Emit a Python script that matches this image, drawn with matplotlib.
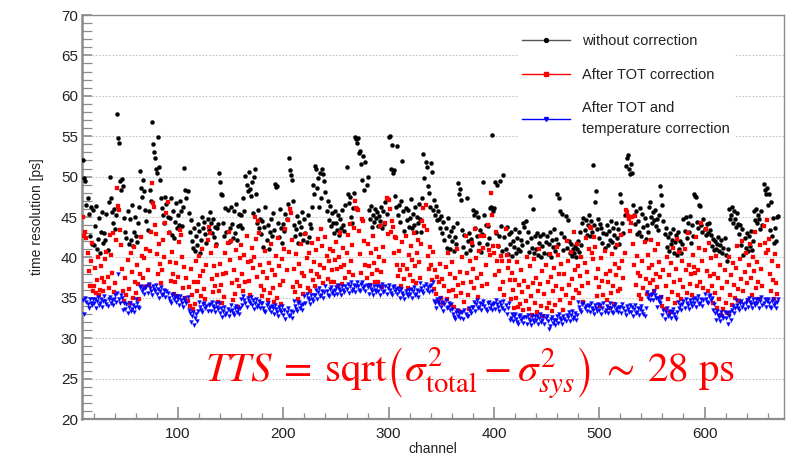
import matplotlib
matplotlib.use("Agg")
import matplotlib.pyplot as plt
from matplotlib.lines import Line2D
from matplotlib.ticker import MultipleLocator

##############################################################################
# Dados (um valor por canal, canais 10..670)
canais = list(range(10, 671))

sem_correcao = [
    52.0, 49.8, 49.5, 46.5, 47.3, 45.4, 42.6, 46.2, 41.7, 45.9,
    41.5, 43.9, 46.4, 41.0, 42.3, 44.9, 40.6, 43.2, 45.6, 41.8,
    43.0, 42.1, 45.4, 40.9, 46.8, 50.0, 47.3, 45.6, 44.3, 46.0,
    43.5, 45.2, 57.8, 54.8, 54.2, 49.5, 48.3, 49.7, 48.8, 44.9,
    43.1, 42.4, 45.7, 41.7, 44.8, 42.2, 46.5, 41.4, 43.2, 45.0,
    42.6, 41.9, 44.3, 46.3, 50.7, 48.6, 47.5, 49.6, 48.2, 45.9,
    44.5, 43.4, 45.8, 48.4, 47.0, 56.7, 54.0, 53.1, 52.3, 51.0,
    50.5, 54.9, 51.2, 49.6, 47.4, 46.1, 45.3, 44.2, 47.5, 46.6,
    45.0, 43.2, 44.9, 47.3, 42.8, 45.8, 42.4, 44.4, 46.7, 43.6,
    45.2, 44.0, 47.0, 45.7, 43.9, 46.3, 51.1, 48.4, 47.3, 48.2,
    45.5, 43.1, 44.6, 42.0, 41.2, 43.7, 40.8, 42.6, 41.5, 44.1,
    43.3, 40.6, 42.2, 45.0, 43.6, 44.4, 42.9, 41.8, 44.8, 43.4,
    45.6, 44.2, 43.0, 44.7, 42.5, 43.8, 41.7, 43.6, 44.1, 50.4,
    49.3, 47.9, 47.7, 44.3, 42.7, 46.1, 43.2, 45.9, 41.9, 43.6,
    46.3, 44.1, 42.4, 45.8, 43.0, 46.6, 42.1, 43.9, 45.4, 44.0,
    45.3, 43.7, 47.3, 45.8, 50.1, 49.0, 48.2, 50.6, 48.5, 47.6,
    49.3, 45.5, 50.0, 50.9, 47.8, 44.3, 45.9, 43.6, 44.7, 42.9,
    44.5, 41.3, 43.8, 46.2, 42.2, 44.0, 41.0, 43.1, 44.8, 42.6,
    45.5, 43.4, 49.1, 48.7, 48.9, 44.2, 42.5, 46.0, 43.7, 41.8,
    44.1, 43.3, 45.4, 44.7, 46.6, 52.3, 50.8, 50.2, 49.6, 47.0,
    44.0, 42.6, 43.5, 45.1, 41.8, 44.4, 42.9, 43.8, 45.6, 42.2,
    44.8, 43.0, 41.9, 45.3, 42.5, 44.1, 43.6, 46.2, 49.0, 47.8,
    51.3, 50.9, 48.6, 49.8, 46.2, 50.4, 47.4, 51.0, 50.3, 49.5,
    48.1, 45.7, 47.0, 44.6, 46.4, 43.9, 45.5, 44.2, 43.0, 45.8,
    44.3, 43.4, 45.2, 42.8, 44.7, 43.6, 45.9, 44.0, 43.3, 46.5,
    51.2, 47.9, 46.7, 47.5, 45.0, 44.2, 46.1, 48.0, 54.9, 54.6,
    54.1, 54.8, 52.9, 53.2, 51.6, 49.6, 52.5, 48.3, 51.8, 49.0,
    50.0, 45.9, 44.8, 46.4, 43.8, 45.3, 44.4, 46.0, 44.9, 45.6,
    43.9, 45.1, 44.5, 46.2, 43.6, 45.8, 44.1, 46.9, 45.4, 47.2,
    54.9, 55.0, 51.0, 53.9, 50.4, 50.8, 47.6, 46.3, 53.8, 45.2,
    46.5, 44.4, 47.0, 51.9, 45.7, 43.3, 46.1, 44.6, 45.9, 43.8,
    44.9, 47.2, 43.6, 45.4, 44.0, 46.3, 43.2, 45.0, 44.3, 46.6,
    44.7, 43.1, 47.4, 52.8, 49.8, 51.8, 51.2, 48.8, 48.0, 46.2,
    51.7, 50.6, 45.9, 47.1, 45.3, 46.4, 44.6, 45.8, 44.8, 43.7,
    45.1, 43.0, 44.4, 42.1, 43.6, 41.2, 44.9, 42.7, 41.0, 43.3,
    42.0, 43.8, 40.8, 42.5, 41.6, 44.2, 49.2, 47.9, 48.5, 47.1,
    43.4, 41.3, 42.8, 40.5, 47.3, 42.0, 43.0, 40.9, 42.3, 41.5,
    45.9, 45.2, 43.7, 45.6, 42.6, 45.0, 41.8, 43.4, 40.7, 42.9,
    49.3, 45.3, 44.0, 41.6, 43.9, 42.4, 46.1, 46.3, 55.2, 45.8,
    46.1, 49.3, 43.0, 49.0, 41.4, 42.7, 49.4, 43.9, 40.8, 50.2,
    42.5, 41.1, 43.8, 40.4, 42.9, 41.7, 43.2, 40.2, 42.0, 41.3,
    43.5, 40.6, 42.4, 41.0, 43.1, 40.8, 42.2, 41.5, 44.2, 43.8,
    44.5, 41.9, 43.1, 40.7, 47.6, 42.4, 41.2, 46.0, 40.5, 42.6,
    41.0, 43.0, 40.3, 41.8, 42.7, 40.1, 41.4, 42.9, 40.6, 41.9,
    42.6, 40.4, 41.7, 43.2, 40.0, 42.1, 41.3, 43.5, 40.8, 42.3,
    47.9, 41.6, 47.3, 45.8, 43.0, 45.4, 40.9, 42.5, 45.1, 41.2,
    44.6, 42.0, 40.6, 41.7, 40.2, 41.1, 40.5, 41.4, 40.0, 41.0,
    42.0, 40.7, 43.2, 41.5, 44.3, 44.9, 43.4, 44.6, 42.8, 44.0,
    45.2, 42.6, 44.5, 43.1, 51.4, 44.0, 46.8, 48.2, 43.5, 44.7,
    42.4, 44.1, 43.6, 41.8, 43.0, 41.2, 42.9, 44.0, 41.5, 43.3,
    42.2, 44.5, 41.9, 43.7, 42.8, 41.3, 44.2, 42.4, 43.5, 41.6,
    47.8, 46.8, 44.3, 43.0, 45.2, 51.3, 52.3, 52.7, 51.0, 50.3,
    51.5, 50.4, 46.5, 45.3, 44.1, 45.8, 42.9, 44.5, 43.2, 46.1,
    42.6, 45.4, 43.8, 44.9, 42.3, 44.0, 43.1, 46.2, 46.8, 45.0,
    44.2, 45.6, 44.6, 45.9, 43.9, 44.8, 43.4, 45.3, 48.9, 47.7,
    46.5, 44.5, 42.9, 43.7, 41.3, 42.5, 40.8, 43.0, 41.6, 42.2,
    43.5, 40.6, 41.9, 42.8, 40.3, 43.2, 41.1, 42.0, 40.5, 41.7,
    44.8, 43.3, 45.0, 42.4, 44.3, 43.1, 45.1, 41.8, 44.0, 42.7,
    47.9, 47.6, 47.5, 44.4, 43.6, 46.5, 46.4, 44.0, 43.2, 44.7,
    43.5, 42.8, 44.1, 43.0, 44.3, 43.4, 42.8, 41.4, 42.3, 40.9,
    42.0, 41.0, 41.7, 42.5, 40.8, 41.5, 42.2, 40.6, 41.2, 42.4,
    40.3, 39.6, 41.0, 46.0, 44.7, 45.3, 46.3, 44.2, 45.7, 44.8,
    43.8, 45.5, 44.1, 42.9, 44.0, 41.5, 43.5, 40.3, 42.4, 41.2,
    43.0, 40.8, 42.6, 41.4, 43.3, 40.9, 42.0, 45.8, 44.6, 46.0,
    44.2, 45.3, 44.8, 43.5, 45.7, 44.0, 49.1, 48.4, 47.8, 48.6,
    46.5, 47.9, 43.4, 46.8, 42.6, 44.9, 41.8, 43.7, 42.0, 45.0,
    45.1,
]

correcao_tot = [
    45.0, 42.6, 43.1, 42.4, 40.5, 38.3, 36.4, 39.6, 41.8, 35.9,
    36.5, 38.7, 35.6, 37.2, 40.1, 35.4, 36.0, 38.9, 37.4, 35.8,
    36.9, 39.8, 40.7, 37.6, 36.2, 42.8, 40.3, 38.1, 43.0, 35.7,
    36.8, 42.2, 48.6, 46.4, 45.9, 43.4, 41.5, 38.6, 35.9, 34.6,
    37.4, 35.3, 39.7, 36.1, 34.4, 40.6, 38.2, 35.0, 41.3, 37.0,
    35.6, 39.1, 36.7, 34.9, 38.0, 42.5, 40.2, 37.5, 39.9, 36.3,
    41.0, 38.4, 36.6, 40.8, 43.2, 49.2, 46.7, 46.3, 44.0, 42.9,
    40.4, 37.9, 41.6, 39.2, 36.8, 38.5, 42.1, 40.0, 44.3, 45.5,
    46.9, 43.0, 39.4, 37.1, 40.7, 38.0, 35.5, 36.9, 39.3, 35.2,
    37.6, 41.9, 43.4, 42.8, 40.1, 36.2, 38.8, 35.0, 37.4, 34.6,
    36.3, 34.0, 38.6, 35.4, 33.6, 37.0, 34.2, 39.5, 35.8, 36.9,
    40.2, 37.7, 35.2, 41.1, 38.3, 36.1, 34.8, 39.0, 42.1, 43.8,
    43.0, 40.6, 37.3, 35.7, 38.9, 36.4, 41.4, 37.8, 34.5, 35.9,
    39.2, 36.6, 34.3, 37.9, 35.1, 40.5, 38.1, 41.8, 43.1, 39.7,
    42.0, 36.8, 34.7, 38.4, 35.5, 40.9, 37.2, 33.9, 36.5, 39.9,
    41.5, 38.0, 35.8, 40.3, 36.9, 42.7, 39.4, 37.1, 35.3, 39.6,
    41.2, 38.7, 40.0, 45.0, 42.3, 37.6, 44.5, 43.0, 39.1, 36.4,
    35.2, 38.2, 36.0, 40.8, 37.4, 34.7, 39.3, 35.6, 41.7, 38.5,
    36.2, 34.5, 37.8, 40.2, 35.0, 42.4, 38.9, 36.6, 34.2, 39.8,
    37.1, 41.0, 43.5, 38.4, 44.6, 40.7, 46.0, 45.5, 42.1, 36.3,
    38.6, 35.7, 40.4, 37.0, 34.9, 39.2, 36.4, 41.6, 38.1, 35.5,
    37.7, 42.9, 39.9, 36.2, 40.6, 35.9, 38.3, 41.8, 37.2, 39.4,
    36.5, 40.9, 38.0, 42.3, 37.6, 39.0, 43.5, 41.4, 36.8, 38.7,
    42.5, 40.2, 37.3, 39.5, 41.1, 36.9, 38.4, 40.8, 37.0, 39.7,
    41.9, 38.6, 36.4, 40.0, 43.0, 38.8, 36.7, 41.2, 39.1, 37.5,
    40.6, 42.8, 38.2, 44.1, 39.6, 41.5, 37.8, 43.6, 47.0, 46.1,
    46.0, 45.9, 43.3, 40.4, 38.1, 44.8, 44.5, 42.0, 39.0, 37.4,
    41.7, 38.9, 36.6, 40.5, 37.9, 42.6, 39.3, 37.0, 41.0, 38.5,
    36.9, 40.1, 43.9, 38.2, 36.3, 41.3, 39.5, 44.2, 47.3, 42.9,
    47.1, 46.0, 43.2, 44.5, 43.8, 40.6, 42.5, 42.4, 39.1, 37.7,
    40.8, 38.4, 36.5, 41.9, 39.0, 37.3, 42.7, 38.6, 36.2, 40.3,
    37.8, 41.4, 39.7, 37.1, 43.0, 38.9, 36.8, 40.6, 42.2, 39.4,
    37.5, 41.6, 44.5, 46.1, 43.9, 46.5, 43.4, 40.2, 38.6, 41.3,
    39.0, 37.2, 40.7, 36.1, 38.4, 35.5, 37.6, 34.6, 36.9, 39.2,
    35.0, 37.3, 34.3, 36.4, 38.8, 34.9, 40.5, 35.8, 37.9, 34.1,
    39.4, 36.0, 33.9, 37.5, 35.2, 41.1, 36.6, 33.4, 38.2, 35.6,
    40.0, 36.8, 34.5, 42.6, 38.1, 35.3, 33.6, 39.5, 37.0, 41.8,
    38.6, 36.2, 43.5, 39.9, 37.4, 35.1, 40.8, 42.6, 38.0, 36.4,
    41.2, 42.6, 39.0, 36.7, 44.0, 40.9, 40.3, 48.0, 45.2, 41.4,
    40.6, 37.8, 43.1, 39.6, 41.4, 38.3, 36.1, 40.2, 39.5, 37.0,
    35.4, 43.5, 40.3, 38.7, 39.6, 37.2, 34.8, 38.1, 36.0, 33.8,
    37.2, 35.0, 39.4, 33.9, 36.6, 34.2, 38.5, 35.7, 33.5, 37.1,
    34.6, 40.0, 36.3, 33.6, 38.9, 35.2, 32.9, 36.8, 39.8, 34.4,
    37.5, 33.2, 35.9, 41.0, 36.7, 34.0, 38.3, 32.8, 35.5, 39.1,
    33.7, 36.9, 34.3, 40.4, 37.6, 33.4, 35.8, 38.7, 34.1, 36.5,
    41.3, 40.3, 37.9, 34.7, 39.2, 36.1, 33.5, 38.0, 35.3, 42.0,
    39.5, 36.6, 34.4, 40.7, 37.3, 35.0, 43.2, 38.4, 36.0, 41.6,
    38.9, 35.6, 37.7, 40.1, 36.4, 34.5, 39.3, 42.4, 38.2, 36.8,
    41.0, 43.8, 43.6, 40.5, 39.8, 42.5, 41.3, 37.5, 35.2, 38.6,
    36.3, 34.0, 39.9, 37.1, 35.4, 40.8, 38.0, 34.7, 36.9, 33.8,
    38.3, 35.6, 40.4, 36.5, 34.2, 39.2, 37.8, 41.5, 35.9, 38.7,
    36.1, 42.8, 39.5, 37.4, 40.6, 45.9, 45.6, 45.1, 44.8, 43.3,
    44.2, 45.0, 41.7, 39.0, 45.1, 36.6, 40.2, 38.1, 35.4, 37.7,
    34.8, 39.6, 36.2, 41.9, 37.3, 35.5, 40.3, 38.7, 36.8, 42.2,
    39.1, 37.2, 35.8, 40.9, 38.0, 36.3, 41.6, 39.4, 37.6, 35.1,
    34.0, 38.5, 33.6, 36.4, 40.0, 34.9, 37.8, 33.2, 39.3, 35.7,
    41.2, 36.9, 34.3, 38.6, 42.3, 35.4, 40.7, 37.2, 34.8, 39.5,
    36.3, 41.0, 38.4, 35.6, 43.0, 39.1, 36.7, 37.9, 35.3, 40.3,
    38.8, 38.1, 42.5, 36.4, 38.5, 41.2, 37.0, 44.2, 39.6, 36.2,
    40.9, 43.5, 38.3, 35.9, 41.8, 37.7, 39.9, 36.5, 34.3, 38.0,
    35.6, 40.2, 33.7, 37.4, 34.9, 39.0, 32.9, 36.2, 33.6, 38.4,
    34.4, 36.9, 33.1, 40.1, 35.3, 37.8, 34.1, 39.3, 36.6, 35.0,
    38.7, 41.4, 36.1, 34.6, 39.8, 37.3, 42.0, 35.8, 38.2, 40.6,
    36.8, 34.7, 39.1, 41.7, 37.5, 35.4, 40.0, 38.3, 43.1, 36.2,
    39.4, 37.0, 34.9, 41.5, 38.6, 36.4, 43.9, 41.8, 40.5, 44.6,
    40.9, 42.3, 38.0, 35.8, 39.6, 37.2, 34.9, 40.4, 36.8, 35.5,
    38.9,
]

correcao_tot_temp = [
    34.7, 33.0, 35.0, 34.5, 34.2, 33.7, 34.8, 34.4, 34.1, 34.9,
    34.3, 34.9, 33.8, 34.6, 35.1, 34.1, 34.3, 34.8, 33.9, 34.6,
    35.2, 34.6, 34.2, 34.0, 34.9, 35.1, 34.4, 34.7, 34.1, 34.8,
    35.3, 34.5, 35.6, 38.0, 34.8, 34.3, 35.4, 35.0, 33.5, 34.3,
    33.6, 34.2, 33.1, 33.9, 34.4, 33.4, 33.6, 34.1, 33.2, 33.9,
    34.9, 34.3, 33.9, 33.7, 36.3, 36.5, 35.8, 36.1, 35.5, 36.2,
    36.4, 35.6, 36.7, 36.2, 35.9, 35.4, 36.5, 36.1, 35.8, 36.6,
    35.5, 36.1, 35.0, 35.8, 36.3, 35.3, 35.5, 36.0, 35.1, 35.8,
    35.6, 35.0, 34.6, 34.4, 35.3, 35.5, 34.8, 35.1, 34.5, 35.2,
    34.9, 34.1, 35.2, 34.7, 34.4, 33.9, 35.0, 34.6, 34.3, 35.1,
    33.5, 33.1, 32.0, 32.8, 33.3, 31.6, 32.5, 33.0, 32.1, 33.4,
    34.5, 33.9, 33.5, 33.3, 34.2, 34.4, 33.7, 34.0, 33.4, 34.1,
    34.2, 33.4, 34.5, 34.0, 33.7, 33.2, 34.3, 33.9, 33.6, 34.4,
    33.1, 33.7, 32.6, 33.4, 33.9, 32.9, 33.1, 33.6, 32.7, 33.4,
    34.1, 33.5, 33.1, 32.9, 33.8, 34.0, 33.3, 33.6, 33.0, 33.7,
    34.9, 34.1, 35.2, 34.7, 34.4, 33.9, 35.0, 34.6, 34.3, 35.1,
    34.1, 34.7, 33.6, 34.4, 34.9, 33.9, 34.1, 34.6, 33.7, 34.4,
    34.4, 33.8, 33.4, 33.2, 34.1, 34.3, 33.6, 33.9, 33.3, 34.0,
    33.8, 33.0, 34.1, 33.6, 33.3, 32.8, 33.9, 33.5, 33.2, 34.0,
    32.9, 33.5, 32.4, 33.2, 33.7, 32.7, 32.9, 33.4, 32.5, 33.2,
    34.6, 34.0, 33.6, 33.4, 34.3, 34.5, 33.8, 34.1, 33.5, 34.2,
    35.2, 34.4, 35.5, 35.0, 34.7, 34.2, 35.3, 34.9, 34.6, 35.4,
    35.4, 36.0, 34.9, 35.7, 36.2, 35.2, 35.4, 35.9, 35.0, 35.7,
    36.4, 35.8, 35.4, 35.2, 36.1, 36.3, 35.6, 35.9, 35.3, 36.0,
    36.3, 35.5, 36.6, 36.1, 35.8, 35.3, 36.4, 36.0, 35.7, 36.5,
    36.1, 36.7, 35.6, 36.4, 36.9, 35.9, 36.1, 36.6, 35.7, 36.4,
    37.0, 36.4, 36.0, 35.8, 36.7, 36.9, 36.2, 36.5, 35.9, 36.6,
    36.3, 35.5, 36.6, 36.1, 35.8, 35.3, 36.4, 36.0, 35.7, 36.5,
    35.9, 36.5, 35.4, 36.2, 36.7, 35.7, 35.9, 36.4, 35.5, 36.2,
    36.6, 36.0, 35.6, 35.4, 36.3, 36.5, 35.8, 36.1, 35.5, 36.2,
    35.8, 35.0, 36.1, 35.6, 35.3, 34.8, 35.9, 35.5, 35.2, 36.0,
    35.5, 36.1, 35.0, 35.8, 36.3, 35.3, 35.5, 36.0, 35.1, 35.8,
    36.8, 36.2, 35.8, 35.6, 36.5, 36.7, 36.0, 36.3, 35.7, 36.4,
    36.6, 35.8, 36.9, 34.6, 34.3, 33.8, 34.9, 34.5, 34.2, 35.0,
    33.9, 34.5, 33.4, 34.2, 34.7, 33.7, 33.9, 34.4, 33.5, 34.2,
    33.6, 33.0, 32.6, 32.4, 33.3, 33.5, 32.8, 33.1, 32.5, 33.2,
    33.2, 32.4, 33.5, 33.0, 32.7, 32.7, 33.8, 33.4, 33.1, 33.9,
    33.9, 34.5, 33.4, 34.2, 34.7, 33.7, 33.9, 34.4, 33.5, 34.2,
    34.6, 34.0, 33.6, 33.4, 34.3, 34.5, 33.8, 34.1, 33.5, 34.2,
    34.4, 33.6, 34.7, 34.2, 33.9, 33.4, 34.5, 34.1, 33.8, 34.6,
    33.5, 34.1, 33.0, 33.8, 34.3, 32.3, 32.5, 33.0, 32.1, 32.8,
    33.0, 32.4, 32.0, 31.8, 32.7, 32.9, 32.2, 32.5, 31.9, 32.6,
    32.6, 31.8, 32.9, 32.4, 32.1, 31.6, 32.7, 32.3, 32.0, 32.8,
    32.2, 32.8, 31.7, 32.5, 33.0, 32.0, 32.2, 32.7, 31.8, 32.5,
    32.7, 32.1, 31.2, 31.5, 32.4, 32.6, 31.9, 32.2, 31.6, 32.3,
    32.7, 31.9, 33.0, 32.5, 32.2, 31.7, 32.8, 32.4, 32.1, 32.9,
    32.6, 33.2, 32.1, 32.9, 33.4, 32.4, 32.6, 33.1, 32.2, 32.9,
    34.5, 33.9, 33.5, 33.3, 34.2, 34.4, 33.7, 34.0, 33.4, 34.1,
    34.0, 33.2, 34.3, 33.8, 33.5, 33.0, 34.1, 33.7, 33.4, 34.2,
    33.5, 34.1, 33.0, 33.8, 34.3, 33.3, 33.5, 34.0, 33.1, 33.8,
    34.3, 33.7, 33.3, 33.1, 34.0, 34.2, 33.5, 33.8, 33.2, 33.9,
    33.9, 33.1, 34.2, 33.7, 33.4, 32.9, 34.0, 33.6, 33.3, 34.1,
    33.3, 33.9, 32.8, 33.6, 34.1, 33.1, 33.3, 33.8, 32.9, 33.6,
    34.0, 33.4, 33.0, 32.8, 33.7, 35.7, 35.0, 35.3, 34.7, 35.4,
    35.5, 34.7, 35.8, 35.3, 35.0, 33.9, 35.0, 34.6, 34.3, 35.1,
    32.9, 33.5, 32.4, 33.2, 33.7, 32.7, 32.9, 33.4, 32.5, 33.2,
    33.6, 33.0, 32.6, 32.4, 33.3, 34.5, 33.8, 34.1, 33.5, 34.2,
    34.6, 33.8, 34.9, 34.4, 34.1, 33.6, 34.7, 34.3, 34.0, 34.8,
    34.4, 35.0, 33.9, 34.7, 35.2, 34.2, 34.4, 34.9, 34.0, 34.7,
    35.5, 34.9, 34.5, 34.3, 35.2, 35.4, 34.7, 35.0, 33.5, 34.2,
    33.1, 32.3, 33.4, 32.9, 32.6, 32.1, 33.2, 32.8, 32.5, 33.3,
    32.5, 33.1, 31.8, 32.8, 33.3, 32.3, 33.5, 34.0, 33.1, 33.8,
    34.7, 34.1, 33.7, 33.5, 34.4, 34.6, 33.9, 34.2, 33.6, 34.3,
    34.7, 33.9, 35.0, 34.5, 34.2, 33.7, 34.8, 34.4, 34.1, 34.9,
    34.3, 34.9, 33.8, 34.6, 35.1, 34.1, 34.3, 34.8, 33.9, 34.6,
    34.9, 34.3, 33.9, 33.7, 34.6, 34.8, 34.1, 34.4, 33.8, 34.5,
    34.9,
]

rotulos = ["without correction", "After TOT correction",
           "After TOT and\ntemperature correction"]
cores = ["black", "#ff0000", "#0000ff"]
marcadores = ["o", "s", "v"]

##############################################################################

plt.rcParams["font.family"] = ["Liberation Sans", "DejaVu Sans"]
plt.rcParams["mathtext.fontset"] = "stix"

cinza = "#8c8c8c"

fig = plt.figure(figsize=(7.98, 4.55), dpi=100)
ax = fig.add_axes([0.1028, 0.0791, 0.8797, 0.8879])

series = [sem_correcao, correcao_tot, correcao_tot_temp]
tamanhos = [3.0, 2.8, 2.9]
for valores, cor, marc, ms in zip(series, cores, marcadores, tamanhos):
    ax.plot(canais, valores, linestyle="none", marker=marc, color=cor,
            markersize=ms, markeredgewidth=0.2, zorder=3)

ax.set_xlim(8.8, 675.5)
ax.set_ylim(20, 70)
ax.xaxis.set_major_locator(MultipleLocator(100))
ax.xaxis.set_minor_locator(MultipleLocator(20))
ax.yaxis.set_major_locator(MultipleLocator(5))
ax.yaxis.set_minor_locator(MultipleLocator(1))

ax.yaxis.grid(True, which="major", color="#c4c4c4", linestyle=(0, (1.5, 1.5)),
              linewidth=0.8, zorder=0)
ax.set_axisbelow(True)

ax.tick_params(which="both", direction="in", colors=cinza, labelcolor="#222222",
               labelsize=11, top=False, right=False)
ax.tick_params(axis="y", which="major", length=7.5, width=1.2, pad=3)
ax.tick_params(axis="y", which="minor", length=7.0, width=0.9)
ax.tick_params(axis="x", which="major", length=8.5, width=1.2, pad=5.5)
ax.tick_params(axis="x", which="minor", length=4.5, width=0.9)

for lado, sp in ax.spines.items():
    sp.set_color(cinza)
    sp.set_linewidth(1.0)
ax.spines["left"].set_linewidth(1.8)
ax.spines["bottom"].set_linewidth(1.6)

ax.set_xlabel("channel", fontsize=10, color="#222222", labelpad=1)
ax.set_ylabel("time resolution [ps]", fontsize=10, color="#222222", labelpad=12)

# legenda com linha + marcador
alcas = []
for cor, marc in zip(cores, marcadores):
    cor_linha = "#555555" if cor == "black" else cor
    alcas.append(Line2D([], [], color=cor_linha, linewidth=1.0, marker=marc,
                        markersize=2.8, markerfacecolor=cor, markeredgecolor=cor))
leg = ax.legend(alcas, rotulos, loc="upper left", bbox_to_anchor=(0.6205, 0.9626),
                fontsize=10.5, frameon=True, facecolor="white", edgecolor="none",
                framealpha=1.0, fancybox=False, borderpad=0.3, borderaxespad=0,
                handlelength=3.3, handletextpad=0.8, labelspacing=1.32,
                numpoints=1)
for t in leg.get_texts():
    t.set_color("#222222")
    t.set_linespacing(1.6)

ax.text(0.175, 0.0916,
        r"$TTS\:=\:\mathrm{sqrt}\left(\sigma^2_{\mathrm{total}} - \sigma^2_{sys}\right)\:\sim\:28\ \mathrm{ps}$",
        transform=ax.transAxes, color="#ff0000", fontsize=29.5,
        ha="left", va="baseline", zorder=5)

fig.savefig("out.png", dpi=100)
